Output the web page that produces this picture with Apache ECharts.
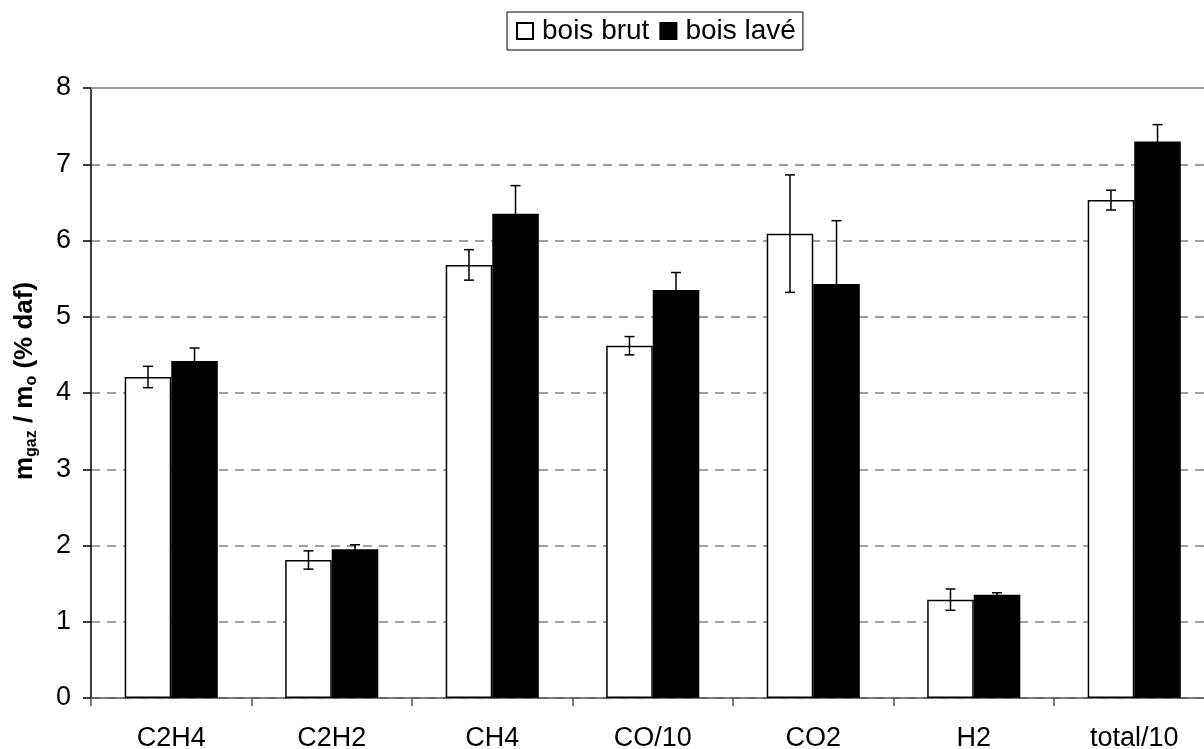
<!DOCTYPE html>
<html><head><meta charset="utf-8">
<script src="https://cdn.jsdelivr.net/npm/echarts@6/dist/echarts.min.js"></script>
<style>html,body{margin:0;padding:0;background:#fff}#c{width:1204px;height:749px}</style>
</head><body><div id="c"></div>
<script>
const categories = ['C2H4','C2H2','CH4','CO/10','CO2','H2','total/10'];
const brut = [4.21, 1.81, 5.68, 4.62, 6.09, 1.29, 6.53];
const brutErr = [0.14, 0.12, 0.20, 0.12, 0.77, 0.14, 0.13];
const lave = [4.42, 1.95, 6.35, 5.35, 5.43, 1.355, 7.30];
const laveErr = [0.17, 0.06, 0.37, 0.23, 0.83, 0.025, 0.22];
const yTicks = [0,1,2,3,4,5,6,7,8];

const FONT = 'Liberation Sans, Arial, sans-serif';
const CAT_GAP = 0.42;

function errSeries(name, vals, errs, side) {
  return {
    name: name + ' err', type: 'custom', silent: true, z: 5,
    data: vals.map((v, i) => [i, v, errs[i]]),
    renderItem: function (params, api) {
      const i = api.value(0), v = api.value(1), e = api.value(2);
      const band = api.size([1, 0])[0];
      const barW = band * (1 - CAT_GAP) / 2;
      const c = api.coord([i, v]);
      const x = c[0] + side * barW / 2;
      const hi = api.coord([i, v + e])[1];
      const lo = api.coord([i, v - e])[1];
      const cap = 5;
      const st = { stroke: '#000', lineWidth: 1.5 };
      return { type: 'group', children: [
        { type: 'line', shape: { x1: x, y1: hi, x2: x, y2: lo }, style: st },
        { type: 'line', shape: { x1: x - cap, y1: hi, x2: x + cap, y2: hi }, style: st },
        { type: 'line', shape: { x1: x - cap, y1: lo, x2: x + cap, y2: lo }, style: st }
      ]};
    }
  };
}

const chart = echarts.init(document.getElementById('c'), null, { renderer: 'canvas' });
chart.setOption({
  animation: false,
  backgroundColor: '#fff',
  textStyle: { fontFamily: FONT },
  legend: {
    data: ['bois brut', 'bois lavé'],
    left: 507, top: 12,
    borderColor: '#000', borderWidth: 1,
    padding: [5, 7, 5, 9],
    itemWidth: 16, itemHeight: 16, itemGap: 10,
    icon: 'rect',
    textStyle: { fontSize: 28, color: '#000', fontFamily: FONT, padding: [0, 0, 0, 4] }
  },
  grid: { left: 91, top: 88, height: 610, width: 1123.5, outerBoundsMode: 'none', containLabel: false },
  xAxis: {
    type: 'category', data: categories,
    axisLine: { lineStyle: { color: '#555', width: 1.5 } },
    axisTick: { show: true, length: 8, lineStyle: { color: '#555', width: 1.5 } },
    axisLabel: { fontSize: 27, color: '#000', margin: 27, fontFamily: FONT }
  },
  yAxis: {
    type: 'value', min: 0, max: 8, interval: 1,
    name: '{m|m}{sub|gaz}{m| / m}{sub|o}{m| (% daf)}',
    nameLocation: 'middle', nameGap: 49, nameRotate: 90,
    nameTextStyle: {
      padding: [0, 0, 0, 24],
      rich: {
        m: { fontSize: 26, fontWeight: 'bold', color: '#000', fontFamily: FONT, lineHeight: 34 },
        sub: { fontSize: 16, fontWeight: 'bold', color: '#000', fontFamily: FONT, lineHeight: 34, padding: [14, 0, 0, 0] }
      }
    },
    axisLine: { show: true, lineStyle: { color: '#000', width: 1.5 } },
    axisTick: { show: true, length: 8, lineStyle: { color: '#000', width: 1.5 } },
    axisLabel: { fontSize: 27, color: '#000', margin: 20, fontFamily: FONT,
      formatter: v => yTicks.includes(v) ? String(v) : '' },
    splitLine: { show: true, lineStyle: { color: '#808080', type: [9, 7], width: 1.5 } }
  },
  series: [
    { name: 'bois brut', type: 'bar', data: brut, barGap: '0%', barCategoryGap: (CAT_GAP * 100) + '%',
      itemStyle: { color: '#fff', borderColor: '#000', borderWidth: 1.5 },
      markLine: { silent: true, symbol: 'none', label: { show: false },
        lineStyle: { color: '#999', type: 'solid', width: 2 }, data: [{ yAxis: 8 }] } },
    { name: 'bois lavé', type: 'bar', data: lave,
      itemStyle: { color: '#000', borderColor: '#000', borderWidth: 1.5 } },
    errSeries('bois brut', brut, brutErr, -1),
    errSeries('bois lavé', lave, laveErr, 1)
  ]
});
</script></body></html>
